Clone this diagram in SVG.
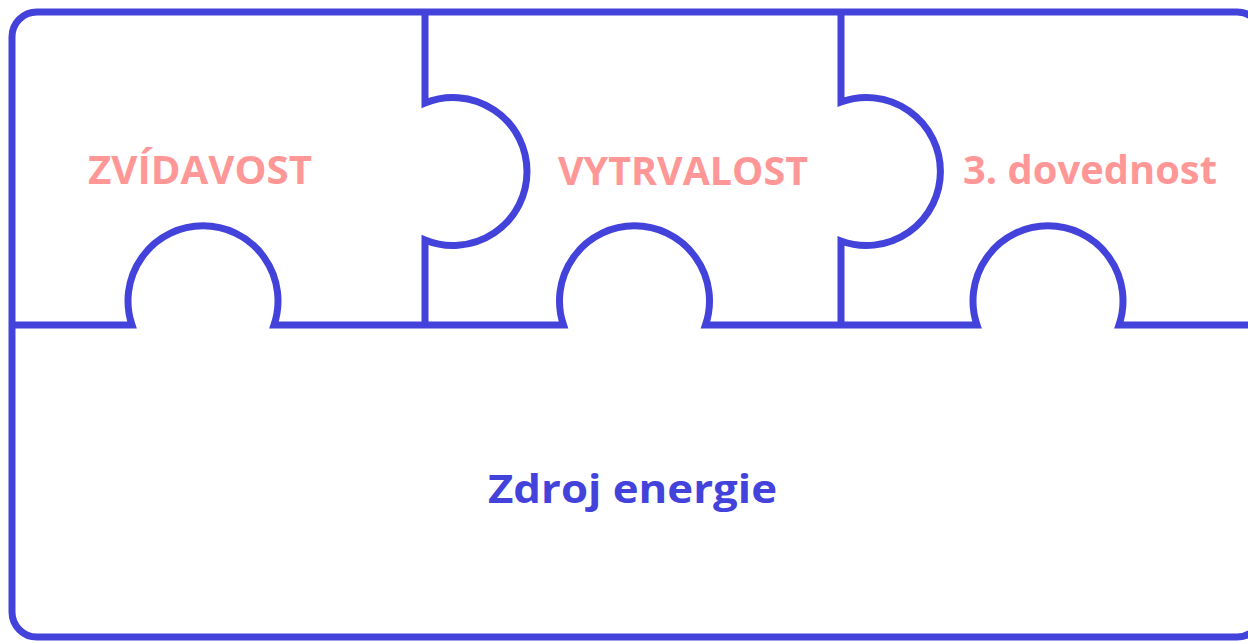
<svg xmlns="http://www.w3.org/2000/svg" width="1248" height="641" viewBox="0 0 1248 641">
  <style>
    .edge { fill: none; stroke: #4343DC; stroke-width: 7; stroke-linejoin: miter; }
    .skill { font-family: "Open Sans", "Liberation Sans", sans-serif; font-weight: bold; font-size: 39px; fill: #FF9797; text-anchor: middle; }
    .base { font-family: "Open Sans", "Liberation Sans", sans-serif; font-weight: bold; font-size: 40px; fill: #4343DC; text-anchor: middle; }
  </style>
  <rect width="1248" height="641" fill="#FFFFFF"/>
  <g id="outline">
    <rect class="edge" x="12" y="12" width="1250" height="625" rx="25" ry="25"/>
    <path class="edge" d="M12,325 H132 A75,75 0 1 1 274,325 H563.5 A75,75 0 1 1 705.5,325 H977 A75,75 0 1 1 1119,325 H1262"/>
    <path class="edge" d="M425,12 V103 A74,74 0 1 1 425,240 V325"/>
    <path class="edge" d="M841,12 V102 A74,74 0 1 1 841,241 V325"/>
  </g>
  <g id="zvidavost">
    <text class="skill" x="200" y="184" textLength="224" lengthAdjust="spacingAndGlyphs">ZVÍDAVOST</text>
  </g>
  <g id="vytrvalost">
    <text class="skill" x="683" y="185" textLength="250" lengthAdjust="spacingAndGlyphs">VYTRVALOST</text>
  </g>
  <g id="dovednost3">
    <text class="skill" x="1090" y="184" textLength="254" lengthAdjust="spacingAndGlyphs">3. dovednost</text>
  </g>
  <g id="zdroj">
    <text class="base" x="632.5" y="503" textLength="289" lengthAdjust="spacingAndGlyphs">Zdroj energie</text>
  </g>
  <g id="connectors"/>
</svg>
